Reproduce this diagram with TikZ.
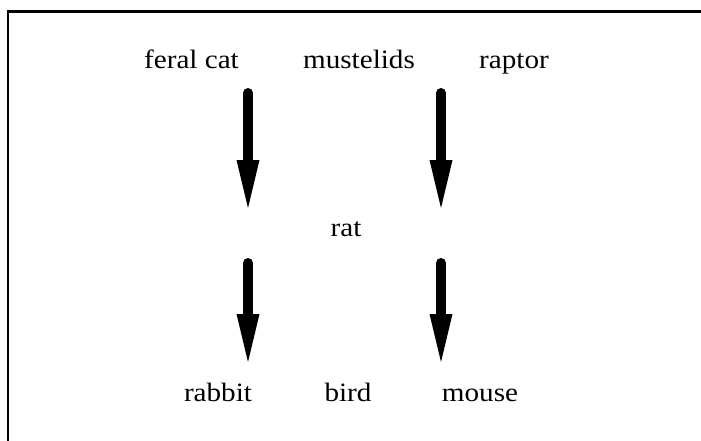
\documentclass[tikz,border=0pt]{standalone}
\usepackage{fontspec}
\setmainfont{Liberation Serif}[FakeStretch=1.1]
\usetikzlibrary{arrows.meta}
\begin{document}
\begin{tikzpicture}[x=1pt,y=-1pt,
  label/.style={anchor=base,inner sep=0pt,font=\fontsize{26.5}{30}\selectfont},
  bigarrow/.style={line width=10pt,line cap=round,
    -{Triangle[length=48pt,width=23pt,line width=0pt]}},
  frameline/.style={line width=2.6pt}]
\useasboundingbox (0,0) rectangle (701,441);
% frame (top and left edges visible)
\draw[frameline] (8,445) -- (8,11.3) -- (705,11.3);
% labels
\node[label] (cat) at (191.5,69) {feral cat};
\node[label] (mus) at (359,69) {mustelids};
\node[label] (rap) at (514,69) {raptor};
\node[label] (rat) at (346,236.5) {rat};
\node[label] (rab) at (218,401) {rabbit};
\node[label] (bird) at (348,401) {bird};
\node[label] (mou) at (480,401) {mouse};
% arrow end points
\coordinate (a1s) at (248,93);  \coordinate (a1e) at (248,208);
\coordinate (a2s) at (441,93);  \coordinate (a2e) at (441,208);
\coordinate (a3s) at (248,263); \coordinate (a3e) at (248,362);
\coordinate (a4s) at (441,263); \coordinate (a4e) at (441,362);
\draw[bigarrow] (a1s) -- (a1e);
\draw[bigarrow] (a2s) -- (a2e);
\draw[bigarrow] (a3s) -- (a3e);
\draw[bigarrow] (a4s) -- (a4e);
\end{tikzpicture}
\end{document}
